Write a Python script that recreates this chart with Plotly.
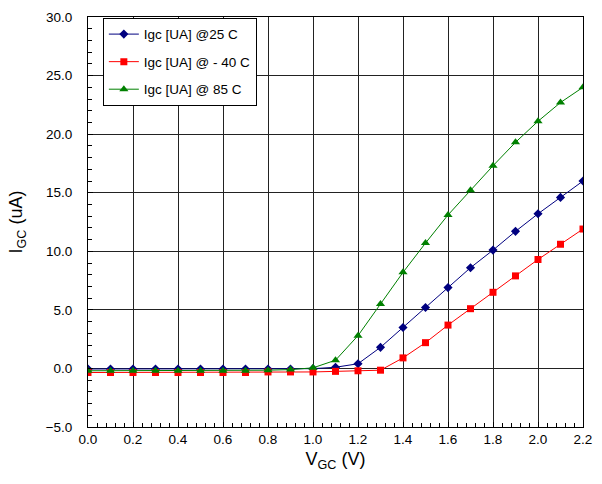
import plotly.graph_objects as go

vgc = [0.0, 0.1, 0.2, 0.3, 0.4, 0.5, 0.6, 0.7, 0.8, 0.9, 1.0, 1.1,
       1.2, 1.3, 1.4, 1.5, 1.6, 1.7, 1.8, 1.9, 2.0, 2.1, 2.2]
igc_25 = [-0.05, -0.05, -0.05, -0.05, -0.05, -0.05, -0.05, -0.05, -0.05, -0.05, -0.02, 0.1,
          0.4, 1.8, 3.5, 5.2, 6.9, 8.6, 10.1, 11.7, 13.2, 14.6, 16.0]
igc_m40 = [-0.35, -0.35, -0.35, -0.35, -0.35, -0.35, -0.35, -0.35, -0.3, -0.3, -0.3, -0.25,
           -0.2, -0.15, 0.9, 2.2, 3.7, 5.1, 6.5, 7.9, 9.3, 10.6, 11.9]
igc_85 = [-0.2, -0.2, -0.2, -0.2, -0.2, -0.2, -0.2, -0.2, -0.15, -0.1, 0.05, 0.7,
          2.8, 5.5, 8.2, 10.7, 13.1, 15.2, 17.3, 19.3, 21.1, 22.7, 24.0]

names = ["Igc [UA] @25 C", "Igc [UA] @ - 40 C", "Igc [UA] @ 85 C"]

FAM = "Liberation Sans, Arial, sans-serif"

fig = go.Figure()
fig.add_trace(go.Scatter(x=vgc, y=igc_25, name=names[0], mode="lines+markers", legendgroup="a",
                         line=dict(color="#000080", width=1),
                         marker=dict(symbol="diamond", size=7, color="#000080")))
fig.add_trace(go.Scatter(x=vgc, y=igc_m40, name=names[1], mode="lines+markers", legendgroup="b",
                         line=dict(color="#FF0000", width=1),
                         marker=dict(symbol="square", size=7, color="#FF0000")))
fig.add_trace(go.Scatter(x=vgc, y=igc_85, name=names[2], mode="lines+markers", legendgroup="c",
                         line=dict(color="#008000", width=1),
                         marker=dict(symbol="triangle-up", size=8, color="#008000")))

fig.update_layout(
    width=602, height=484,
    margin=dict(l=88, r=10, t=10, b=57),
    paper_bgcolor="white", plot_bgcolor="white",
    font=dict(family=FAM, size=13.5, color="black"),
    showlegend=True,
    legend=dict(x=0.03, y=0.998, xanchor="left", yanchor="top",
                bordercolor="black", borderwidth=1, bgcolor="white",
                font=dict(family=FAM, size=13.5, color="black"),
                traceorder="grouped", tracegroupgap=7, itemwidth=30),
    xaxis=dict(range=[0, 2.2], dtick=0.2, tick0=0, tickformat=".1f",
               showgrid=True, gridcolor="#222222", gridwidth=1,
               showline=True, linecolor="black", linewidth=1, mirror=True,
               ticks="inside", ticklen=5, tickcolor="black", ticklabelstandoff=0,
               minor=dict(dtick=0.04, ticks="inside", ticklen=4, tickcolor="black", showgrid=False),
               zeroline=False,
               title=dict(text="V<sub>GC</sub> (V)", standoff=6, font=dict(family=FAM, size=18))),
    yaxis=dict(range=[-5, 30], dtick=5, tick0=0, tickformat=".1f",
               showgrid=True, gridcolor="#222222", gridwidth=1,
               showline=True, linecolor="black", linewidth=1, mirror=True,
               ticks="inside", ticklen=5, tickcolor="black", ticklabelstandoff=12,
               minor=dict(dtick=1, ticks="inside", ticklen=4, tickcolor="black", showgrid=False),
               zeroline=False,
               title=dict(text="I<sub>GC</sub> (uA)", standoff=18, font=dict(family=FAM, size=18))),
)

fig.write_html("out.html", config={"displayModeBar": False},
               post_script="document.body.style.margin='0';document.body.style.overflow='hidden';")
